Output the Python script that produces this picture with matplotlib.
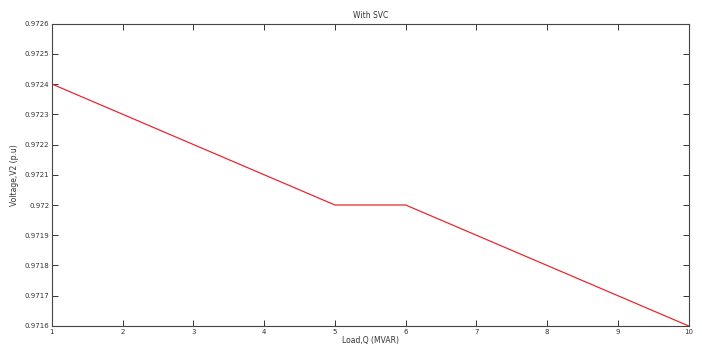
import matplotlib.pyplot as plt

load_q = [1, 2, 3, 4, 5, 6, 7, 8, 9, 10]
voltage = [0.9724, 0.9723, 0.9722, 0.9721, 0.9720, 0.9720,
           0.9719, 0.9718, 0.9717, 0.9716]

x_ticks = list(range(1, 11))
y_ticks = [0.9716, 0.9717, 0.9718, 0.9719, 0.972, 0.9721,
           0.9722, 0.9723, 0.9724, 0.9725, 0.9726]
y_labels = ['0.9716', '0.9717', '0.9718', '0.9719', '0.972', '0.9721',
            '0.9722', '0.9723', '0.9724', '0.9725', '0.9726']

fig = plt.figure(figsize=(7.02, 3.52), dpi=100)
ax = fig.add_axes([0.074, 0.074, 0.907, 0.859])

ax.plot(load_q, voltage, color='#e8282f', linewidth=0.9)

ax.set_xlim(1, 10)
ax.set_ylim(0.9716, 0.9726)
ax.set_xticks(x_ticks)
ax.set_yticks(y_ticks)
ax.set_yticklabels(y_labels)
ax.tick_params(direction='in', top=True, right=True, labelsize=5,
               length=4, width=0.7, colors='#333333', pad=2)
for s in ax.spines.values():
    s.set_color('#444444')
    s.set_linewidth(0.8)

ax.set_title('With SVC', fontsize=5.5, color='#333333', pad=4)
ax.set_xlabel('Load,Q (MVAR)', fontsize=5.5, color='#333333', labelpad=1)
ax.set_ylabel('Voltage,V2 (p.u)', fontsize=5.5, color='#333333', labelpad=4)

fig.savefig('out.png', dpi=100)
